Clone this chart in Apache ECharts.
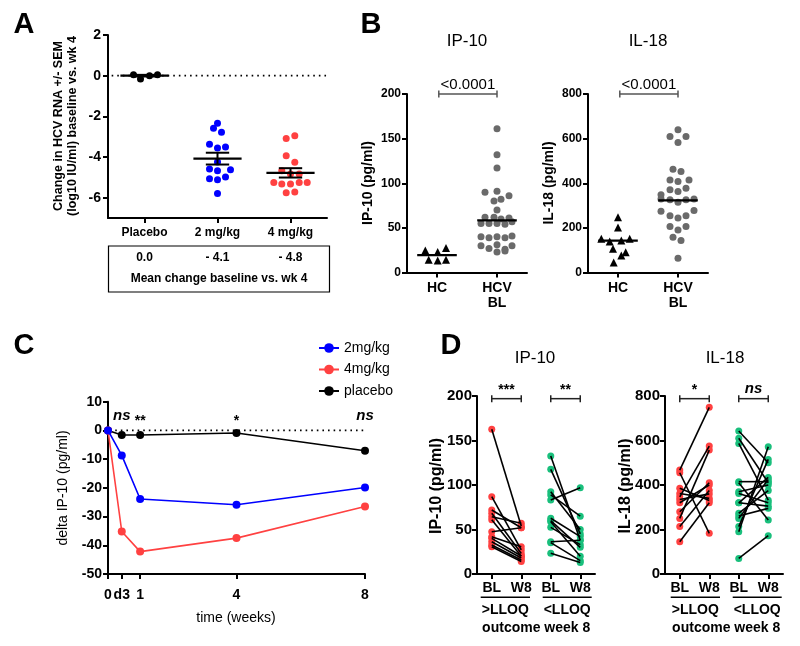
<!DOCTYPE html>
<html><head><meta charset="utf-8">
<script src="https://cdn.jsdelivr.net/npm/echarts@6/dist/echarts.min.js"></script>
<style>html,body{margin:0;padding:0;background:#fff}#c{width:800px;height:646px}</style>
</head><body><div id="c"></div>
<script>
// ================= DATA =================
// Panel A: change in HCV RNA (log10 IU/ml) baseline vs wk 4
const aCategories = ['Placebo', '2 mg/kg', '4 mg/kg'];
const aPlacebo = [0.05, -0.16, 0.0, 0.05];
const a2mg = [-2.34, -2.59, -2.78, -3.37, -3.56, -3.51, -4.24, -4.59, -4.68, -4.63, -5.07, -5.12, -4.98, -5.80];
const a4mg = [-3.09, -2.96, -3.94, -4.26, -4.68, -4.84, -4.84, -5.25, -5.33, -5.33, -5.25, -5.76, -5.72, -5.25];
const aMeans = [0.0, -4.08, -4.78];
const aSEM = [0.04, 0.29, 0.23];
const aTableValues = ['0.0', '- 4.1', '- 4.8'];
const aTableCaption = 'Mean change baseline vs. wk 4';

// Panel B: baseline cytokines
const bCategories = ['HC', 'HCV\nBL'];
const bIp10HC = [24.7, 22.9, 27.4, 14.2, 13.5, 14.2];
const bIp10HCV = [161, 132, 117, 90, 91, 86, 82, 80, 70, 62, 62, 60, 61, 55, 55, 55, 54, 57, 40, 39, 40, 39, 41, 30, 27, 31, 26, 30, 23, 24];
const bIp10Lines = [19.5, 58.5];
const bIl18HC = [248, 202, 151, 139, 143, 151, 106, 91, 76, 45];
const bIl18HCV = [640, 610, 610, 583, 463, 453, 415, 408, 415, 371, 363, 378, 348, 329, 326, 315, 326, 329, 274, 254, 244, 254, 278, 206, 191, 206, 158, 143, 64];
const bIl18Lines = [143, 323];
const bPValues = ['<0.0001', '<0.0001'];

// Panel C: delta IP-10 over time
const cTimes = [0, 3 / 7, 1, 4, 8];
const cTimeLabels = ['0', 'd3', '1', '4', '8'];
const c2mg = [0, -8.7, -23.9, -25.9, -19.9];
const c4mg = [0, -35.2, -42.2, -37.5, -26.5];
const cPlacebo = [0, -1.6, -1.6, -0.9, -7.1];
const cSig = ['', 'ns', '**', '*', 'ns'];

// Panel D: paired BL / W8 values
const dCategories = ['BL', 'W8', 'BL', 'W8'];
const dIp10Above = [[162.6, 54], [86.9, 27], [71.9, 52], [68.2, 23], [64.4, 57], [61.0, 20], [47.5, 52], [41.9, 30.7], [40.1, 20.2], [36.3, 18], [32.6, 15.7], [30.7, 14]];
const dIp10Below = [[132.6, 38], [117.6, 45], [92.5, 50], [88.8, 65], [83.1, 97], [62.6, 42], [60.0, 30], [58.8, 20], [52.4, 33], [36.3, 38], [35.2, 15], [23.3, 13]];
const dIl18Above = [[467, 749], [455, 183], [385, 330], [362, 340], [347, 575], [335, 360], [320, 400], [280, 410], [250, 557], [213, 375], [145, 320]];
const dIl18Below = [[643, 500], [610, 410], [587, 332], [415, 415], [410, 243], [370, 400], [362, 320], [320, 305], [320, 434], [273, 375], [261, 295], [250, 425], [213, 515], [190, 572], [70, 172]];
const dIp10Sig = ['***', '**'];
const dIl18Sig = ['*', 'ns'];

// ================= LAYOUT (jitter in pixels, scatter-dot columns) =================
const jitAPlacebo = [-11, -4, 5, 13];
const jitA2mg = [0, -4, 4, -8, 0, 8, 0, -8, 0, 13, -8, 0, 8, 0];
const jitA4mg = [-4.3, 4.3, -4.3, 4.3, -8.7, 0, 8.7, -16.7, -8.7, 0, 8.7, -4.3, 4.3, 16.7];
const jitBIp10HC = [-11.7, 0.7, 9, -8.3, 0.7, 9];
const jitBIp10HCV = [0, 0, 0, -12, 0, 12, 4, -3, 0, -12, -3, 4, 12, -16, -8, 0, 8, 15, -16, -8, 0, 8, 15, -16, -8, 0, 8, 15, 0, 8];
const jitBIl18HC = [0, 0, -16.7, -8.3, 3.3, 11.7, -5, 7.7, 3.3, -4.3];
const jitBIl18HCV = [0, -8, 8, 0, -5, 3, -8, 0, 11, -8, 0, 8, -17, -17, -8, 0, 8, 16, -17, -8, 0, 8, 16, -8, 0, 8, -5, 3, 0];

const FF = '"Liberation Sans", Arial, Helvetica, sans-serif';
function F(size, weight, style) { return (style ? style + ' ' : '') + (weight || 'normal') + ' ' + size + 'px ' + FF; }

const G = [
  { left: 108, top: 35, width: 219, height: 183 },
  { left: 407, top: 94, width: 120, height: 178.5 },
  { left: 588, top: 94, width: 120, height: 178.5 },
  { left: 108, top: 401.7, width: 257, height: 172.3 },
  { left: 477, top: 396, width: 118, height: 178 },
  { left: 665, top: 396, width: 118, height: 178 }
];
const pxA = G[0].width / 3, pxB = G[1].width / 2;

function axis(gi, min, max, o) {
  o = o || {};
  const ax = {
    type: 'value', gridIndex: gi, min: min, max: max,
    axisLine: { show: true, onZero: false, lineStyle: { color: '#000', width: 2 } },
    axisTick: Object.assign({ show: true, length: 5, lineStyle: { color: '#000', width: 2 } }, o.tick || {}),
    axisLabel: Object.assign({ color: '#000', fontWeight: 'bold', fontFamily: FF, fontSize: 12, margin: 7 }, o.label || {}),
    splitLine: { show: false }
  };
  if (o.interval) ax.interval = o.interval;
  return ax;
}
function catAxis(gi, max, vals, labels, size, margin, extra) {
  return axis(gi, 0, max, {
    label: Object.assign({ customValues: vals, formatter: function (v) { return labels[vals.findIndex(function (t) { return Math.abs(t - v) < 1e-6; })]; }, fontSize: size, margin: margin }, extra || {}),
    tick: { customValues: vals }
  });
}

function pts(vals, center, jit, pxPerUnit) {
  return vals.map(function (v, i) { return [center + jit[i] / pxPerUnit, v]; });
}

function hLine(p1, p2, color, w) {
  return { type: 'line', shape: { x1: p1[0], y1: p1[1], x2: p2[0], y2: p2[1] }, style: { stroke: color, lineWidth: w } };
}
function txt(x, y, text, font, align, valign, fill) {
  return { type: 'text', x: x, y: y, style: { text: text, font: font, fill: fill || '#000', align: align, verticalAlign: valign, textAlign: align, textVerticalAlign: valign } };
}

// mean line renderer
function meanRender(hw, withSem, semHw) {
  return function (params, api) {
    const x = api.value(0), y = api.value(1), s = api.value(2);
    const ch = [hLine(api.coord([x - hw, y]), api.coord([x + hw, y]), '#000', 2.2)];
    if (withSem) {
      const t = api.coord([x, y + s]), b = api.coord([x, y - s]);
      ch.push(hLine(t, b, '#000', 2));
      ch.push(hLine(api.coord([x - semHw, y + s]), api.coord([x + semHw, y + s]), '#000', 2));
      ch.push(hLine(api.coord([x - semHw, y - s]), api.coord([x + semHw, y - s]), '#000', 2));
    }
    return { type: 'group', children: ch };
  };
}
// bracket renderer
function bracketRender(labels, color, font) {
  return function (params, api) {
    const p1 = api.coord([api.value(0), api.value(2)]), p2 = api.coord([api.value(1), api.value(2)]);
    const c = 3.5;
    return {
      type: 'group', children: [
        hLine(p1, p2, color, 1.5),
        hLine([p1[0], p1[1] - c], [p1[0], p1[1] + c], color, 1.5),
        hLine([p2[0], p2[1] - c], [p2[0], p2[1] + c], color, 1.5),
        txt((p1[0] + p2[0]) / 2, p1[1] - 2, labels[params.dataIndex], labels[params.dataIndex] === 'ns' ? F(15, 'bold', 'italic') : font, 'center', 'bottom')
      ]
    };
  };
}
// pair line renderer
function pairRender(params, api) {
  return hLine(api.coord([api.value(0), api.value(1)]), api.coord([api.value(2), api.value(3)]), '#000', 1.6);
}
function pairData(pairs, x1, x2) { return pairs.map(function (p) { return [x1, p[0], x2, p[1]]; }); }
function pairPts(pairs, x1, x2) { const o = []; pairs.forEach(function (p) { o.push([x1, p[0]]); o.push([x2, p[1]]); }); return o; }

function scatter(gi, data, color, symbol, size) {
  return { type: 'scatter', xAxisIndex: gi, yAxisIndex: gi, data: data, symbol: symbol || 'circle', symbolSize: size || 7, itemStyle: { color: color, opacity: 1 }, silent: true, z: 3 };
}
function custom(gi, data, render, z) {
  return { type: 'custom', xAxisIndex: gi, yAxisIndex: gi, data: data, renderItem: render, silent: true, z: z || 5 };
}
function dotted(gi, x1, x2) {
  return { type: 'line', xAxisIndex: gi, yAxisIndex: gi, data: [[x1, 0], [x2, 0]], symbol: 'none', silent: true, z: 1, lineStyle: { color: '#000', width: 1.6, type: [1.6, 4] } };
}

const RED = '#ff4141', BLUE = '#0000ff', GRAY = '#6a6a6a', GREEN = '#19bf7c';

const series = [
  // ---- A ----
  dotted(0, 0.05, 3),
  scatter(0, pts(aPlacebo, 0.5, jitAPlacebo, pxA), '#000'),
  scatter(0, pts(a2mg, 1.5, jitA2mg, pxA), BLUE),
  scatter(0, pts(a4mg, 2.5, jitA4mg, pxA), RED),
  custom(0, aMeans.map(function (m, i) { return [i + 0.5, m, aSEM[i]]; }), meanRender(0.33, true, 0.16)),
  // ---- B IP-10 ----
  scatter(1, pts(bIp10HC, 0.5, jitBIp10HC, pxB), '#000', 'triangle', 8),
  scatter(1, pts(bIp10HCV, 1.5, jitBIp10HCV, pxB), GRAY),
  custom(1, bIp10Lines.map(function (m, i) { return [i + 0.5, m, 0]; }), meanRender(0.33, false)),
  custom(1, [[0.53, 1.5, 200]], bracketRender([bPValues[0]], '#555', F(15))),
  // ---- B IL-18 ----
  scatter(2, pts(bIl18HC, 0.5, jitBIl18HC, pxB), '#000', 'triangle', 8),
  scatter(2, pts(bIl18HCV, 1.5, jitBIl18HCV, pxB), GRAY),
  custom(2, bIl18Lines.map(function (m, i) { return [i + 0.5, m, 0]; }), meanRender(0.33, false)),
  custom(2, [[0.53, 1.5, 800]], bracketRender([bPValues[1]], '#555', F(15))),
  // ---- C ----
  dotted(3, 0.05, 8),
  { type: 'line', name: 'placebo', xAxisIndex: 3, yAxisIndex: 3, data: cTimes.map(function (t, i) { return [t, cPlacebo[i]]; }), symbol: 'circle', symbolSize: 8, color: '#000', lineStyle: { width: 1.6 }, silent: true, z: 3 },
  { type: 'line', name: '4mg/kg', xAxisIndex: 3, yAxisIndex: 3, data: cTimes.map(function (t, i) { return [t, c4mg[i]]; }), symbol: 'circle', symbolSize: 8, color: RED, lineStyle: { width: 1.6 }, silent: true, z: 4 },
  { type: 'line', name: '2mg/kg', xAxisIndex: 3, yAxisIndex: 3, data: cTimes.map(function (t, i) { return [t, c2mg[i]]; }), symbol: 'circle', symbolSize: 8, color: BLUE, lineStyle: { width: 1.6 }, silent: true, z: 5 },
  custom(3, cTimes.map(function (t, i) { return [t, 5, i]; }).filter(function (d) { return cSig[d[2]] !== ''; }), function (params, api) {
    const s = cSig[api.value(2)];
    const p = api.coord([api.value(0), api.value(1)]);
    const isNs = s === 'ns';
    return txt(p[0], p[1] + (isNs ? 0 : 5), s, isNs ? F(15, 'bold', 'italic') : F(14, 'bold'), 'center', 'middle');
  }),
  // ---- D IP-10 ----
  scatter(4, pairPts(dIp10Above, 0.5, 1.5), RED, 'circle', 7),
  scatter(4, pairPts(dIp10Below, 2.5, 3.5), GREEN, 'circle', 7),
  custom(4, pairData(dIp10Above, 0.5, 1.5).concat(pairData(dIp10Below, 2.5, 3.5)), pairRender, 6),
  custom(4, [[0.5, 1.5, 197], [2.5, 3.5, 197]], bracketRender(dIp10Sig, '#222', F(14, 'bold'))),
  // ---- D IL-18 ----
  scatter(5, pairPts(dIl18Above, 0.5, 1.5), RED, 'circle', 7),
  scatter(5, pairPts(dIl18Below, 2.5, 3.5), GREEN, 'circle', 7),
  custom(5, pairData(dIl18Above, 0.5, 1.5).concat(pairData(dIl18Below, 2.5, 3.5)), pairRender, 6),
  custom(5, [[0.5, 1.5, 788], [2.5, 3.5, 788]], bracketRender(dIl18Sig, '#222', F(14, 'bold')))
];

// ---- free text / annotations ----
function gt(x, y, text, font, opts) {
  opts = opts || {};
  return { type: 'text', x: x, y: y, rotation: opts.rot || 0, silent: true,
    style: { text: text, font: font, fill: '#000', align: opts.align || 'center', verticalAlign: opts.valign || 'middle', textAlign: opts.align || 'center', textVerticalAlign: opts.valign || 'middle' } };
}
function gl(x1, y1, x2, y2, w) {
  return { type: 'line', silent: true, shape: { x1: x1, y1: y1, x2: x2, y2: y2 }, style: { stroke: '#000', lineWidth: w || 1.5 } };
}
const R = Math.PI / 2;
const graphic = [
  gt(24, 25, 'A', F(29, 'bold')),
  gt(371, 25, 'B', F(29, 'bold')),
  gt(24, 346, 'C', F(29, 'bold')),
  gt(451, 346, 'D', F(29, 'bold')),
  // A
  gt(59, 126, 'Change in HCV RNA +/- SEM', F(12.5, 'bold'), { rot: R }),
  gt(73, 126, '(log10 IU/ml) baseline vs. wk 4', F(12.5, 'bold'), { rot: R }),
  { type: 'rect', silent: true, shape: { x: 108.5, y: 246, width: 221, height: 46 }, style: { fill: 'none', stroke: '#000', lineWidth: 1.2 } },
  gt(144.5, 258, aTableValues[0], F(12, 'bold')),
  gt(217.5, 258, aTableValues[1], F(12, 'bold')),
  gt(290.5, 258, aTableValues[2], F(12, 'bold')),
  gt(219, 279, aTableCaption, F(12, 'bold')),
  // B
  gt(467, 41, 'IP-10', F(17)),
  gt(648, 41, 'IL-18', F(17)),
  gt(368, 183, 'IP-10 (pg/ml)', F(14, 'bold'), { rot: R }),
  gt(549, 183, 'IL-18 (pg/ml)', F(14, 'bold'), { rot: R }),
  // C
  gt(63, 488, 'delta IP-10 (pg/ml)', F(14), { rot: R }),
  gt(236, 618, 'time (weeks)', F(14)),
  // D
  gt(535, 358, 'IP-10', F(17)),
  gt(725, 358, 'IL-18', F(17)),
  gt(437, 486, 'IP-10 (pg/ml)', F(16, 'bold'), { rot: R }),
  gt(625.5, 486, 'IL-18 (pg/ml)', F(16, 'bold'), { rot: R })
];
[[476.7, 4, 53.3, 66, 115], [665, 5.7, 55, 67.7, 116.7]].forEach(function (g) {
  const L = g[0];
  graphic.push(gl(L + g[1], 597.3, L + g[2], 597.3, 1.5));
  graphic.push(gl(L + g[3], 597.3, L + g[4], 597.3, 1.5));
  graphic.push(gt(L + (g[1] + g[2]) / 2, 610, '>LLOQ', F(14, 'bold')));
  graphic.push(gt(L + (g[3] + g[4]) / 2, 610, '<LLOQ', F(14, 'bold')));
  graphic.push(gt(L + (g[1] + g[4]) / 2, 628, 'outcome week 8', F(14, 'bold')));
});

const option = {
  animation: false,
  backgroundColor: '#fff',
  grid: G.map(function (g) { return Object.assign({ containLabel: false, outerBoundsMode: 'none' }, g); }),
  xAxis: [
    catAxis(0, 3, [0.5, 1.5, 2.5], aCategories, 12, 9),
    catAxis(1, 2, [0.5, 1.5], bCategories, 14, 8, { lineHeight: 15 }),
    catAxis(2, 2, [0.5, 1.5], bCategories, 14, 8, { lineHeight: 15 }),
    catAxis(3, 8, cTimes, cTimeLabels, 14, 14),
    catAxis(4, 4, [0.5, 1.5, 2.5, 3.5], dCategories, 14, 7),
    catAxis(5, 4, [0.5, 1.5, 2.5, 3.5], dCategories, 14, 7)
  ],
  yAxis: [
    axis(0, -7, 2, { label: { customValues: [-6, -4, -2, 0, 2], fontSize: 14 }, tick: { customValues: [-6, -4, -2, 0, 2] } }),
    axis(1, 0, 200, { interval: 50, label: { fontSize: 12, margin: 6 } }),
    axis(2, 0, 800, { interval: 200, label: { fontSize: 12, margin: 6 } }),
    axis(3, -50, 10, { interval: 10, label: { fontSize: 14, margin: 6 } }),
    axis(4, 0, 200, { interval: 50, label: { fontSize: 15, margin: 5 } }),
    axis(5, 0, 800, { interval: 200, label: { fontSize: 15, margin: 5 } })
  ],
  legend: {
    data: ['2mg/kg', '4mg/kg', 'placebo'], orient: 'vertical', left: 313, top: 336,
    itemWidth: 20, itemHeight: 12, itemGap: 7.5, selectedMode: false,
    textStyle: { fontSize: 14, fontFamily: FF, color: '#000' }
  },
  series: series,
  graphic: graphic
};
const chart = echarts.init(document.getElementById('c'), null, { renderer: 'canvas' });
chart.setOption(option);
</script>
</body></html>
